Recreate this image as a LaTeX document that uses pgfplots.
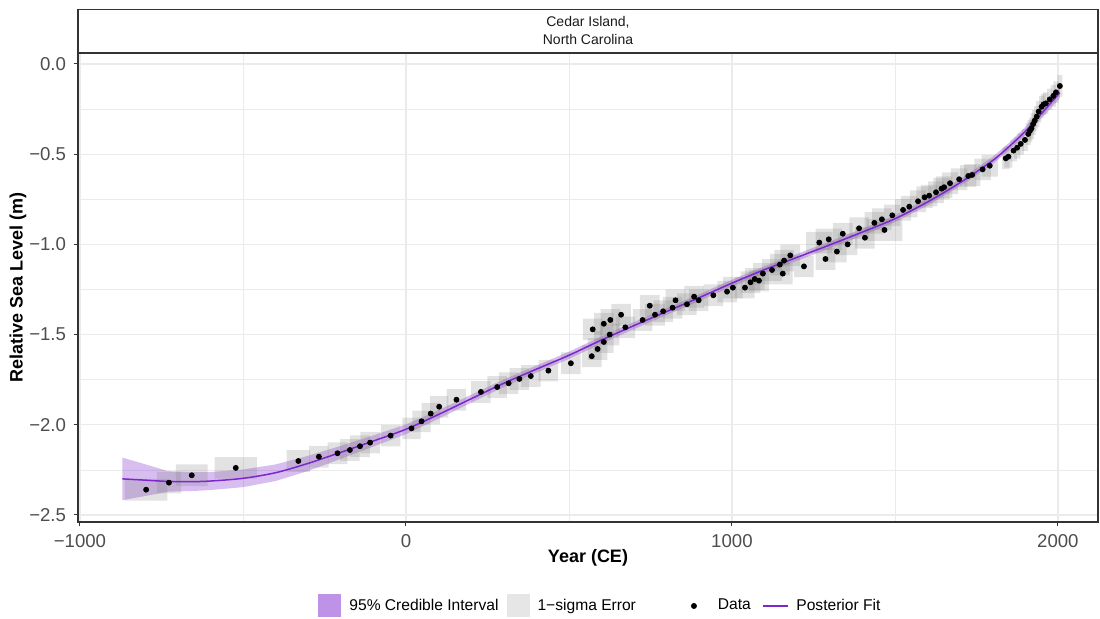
\documentclass[border=0pt]{standalone}
\usepackage{fontspec}
\setmainfont{Liberation Sans}
\usepackage{pgfplots}
\pgfplotsset{compat=1.18}
\usepgfplotslibrary{fillbetween}
\usepackage{pgfplotstable}
\definecolor{purple3}{HTML}{7D26CD}
\definecolor{grey30}{HTML}{4D4D4D}
\definecolor{grey20}{HTML}{333333}
\definecolor{grey92}{HTML}{EBEBEB}
\definecolor{grey10}{HTML}{1A1A1A}

% data points: year, RSL, half-width in years, half-height in m
\pgfplotstableread{
x y xe ye
-797 -2.360 65 0.06
-727 -2.321 37 0.06
-657 -2.280 49 0.06
-522 -2.239 65 0.06
-330 -2.201 36 0.06
-267 -2.177 30 0.06
-210 -2.158 30 0.06
-172 -2.140 30 0.06
-141 -2.119 30 0.06
-110 -2.099 30 0.06
-47 -2.060 30 0.06
17 -2.020 28 0.06
48 -1.981 28 0.06
76 -1.938 28 0.06
102 -1.900 28 0.06
155 -1.861 30 0.06
230 -1.818 30 0.06
280 -1.791 30 0.06
315 -1.770 30 0.06
348 -1.746 30 0.06
383 -1.730 30 0.06
437 -1.700 30 0.06
506 -1.659 30 0.06
570 -1.620 30 0.06
588 -1.580 30 0.06
607 -1.541 30 0.06
625 -1.500 30 0.06
573 -1.471 30 0.06
607 -1.440 30 0.06
627 -1.419 30 0.06
660 -1.390 30 0.06
673 -1.460 30 0.06
726 -1.419 30 0.06
748 -1.340 30 0.06
764 -1.390 30 0.06
789 -1.371 30 0.06
818 -1.351 30 0.06
827 -1.310 30 0.06
862 -1.332 30 0.06
884 -1.290 30 0.06
898 -1.310 30 0.06
943 -1.282 30 0.06
985 -1.262 30 0.06
1003 -1.240 30 0.06
1040 -1.240 30 0.06
1057 -1.210 30 0.06
1070 -1.192 30 0.06
1083 -1.201 30 0.06
1095 -1.162 30 0.06
1123 -1.142 30 0.06
1147 -1.112 30 0.06
1160 -1.090 30 0.06
1156 -1.162 30 0.06
1179 -1.061 30 0.06
1221 -1.122 30 0.06
1268 -0.990 40 0.06
1287 -1.081 30 0.06
1297 -0.972 40 0.06
1322 -1.040 30 0.06
1340 -0.941 30 0.06
1355 -1.000 30 0.06
1390 -0.911 30 0.06
1408 -0.963 30 0.06
1437 -0.881 30 0.06
1460 -0.861 30 0.06
1468 -0.920 55 0.06
1492 -0.839 25 0.06
1525 -0.809 25 0.06
1544 -0.791 25 0.06
1571 -0.761 25 0.06
1591 -0.739 25 0.06
1605 -0.730 25 0.06
1626 -0.711 25 0.06
1643 -0.691 25 0.06
1651 -0.683 25 0.06
1669 -0.661 25 0.06
1697 -0.639 25 0.06
1725 -0.621 25 0.06
1737 -0.615 25 0.06
1769 -0.584 25 0.06
1791 -0.564 25 0.06
1840 -0.523 12 0.06
1848 -0.514 12 0.06
1864 -0.480 10 0.06
1875 -0.464 10 0.06
1886 -0.443 10 0.06
1899 -0.421 10 0.06
1909 -0.388 8 0.06
1914 -0.371 8 0.06
1919 -0.357 8 0.06
1924 -0.333 8 0.06
1929 -0.314 8 0.06
1935 -0.292 8 0.06
1941 -0.264 8 0.06
1950 -0.237 8 0.06
1956 -0.224 8 0.06
1963 -0.218 8 0.06
1975 -0.196 8 0.06
1986 -0.177 8 0.06
1994 -0.157 8 0.06
2006 -0.122 8 0.06
}\pts

% posterior fit: year, mean, half-width of 95% interval
\pgfplotstableread{
year mean hw
-870 -2.300 0.118
-800 -2.307 0.088
-730 -2.314 0.057
-650 -2.315 0.052
-600 -2.312 0.050
-500 -2.297 0.049
-400 -2.266 0.046
-300 -2.214 0.042
-200 -2.153 0.036
-100 -2.090 0.031
0 -2.025 0.027
100 -1.943 0.024
200 -1.856 0.022
300 -1.770 0.021
400 -1.692 0.020
500 -1.615 0.020
600 -1.530 0.020
700 -1.450 0.020
800 -1.372 0.019
900 -1.295 0.019
1000 -1.215 0.019
1100 -1.140 0.019
1200 -1.072 0.019
1300 -1.003 0.019
1400 -0.932 0.019
1500 -0.858 0.019
1600 -0.765 0.019
1700 -0.658 0.019
1800 -0.535 0.020
1850 -0.458 0.021
1900 -0.373 0.023
1950 -0.274 0.025
2006 -0.159 0.030
}\fit

\begin{document}
\begin{tikzpicture}
\begin{axis}[
  at={(39pt,48.5pt)}, anchor=south west,
  scale only axis, width=510pt, height=234.5pt,
  xmin=-1006, xmax=2123, ymin=-2.539, ymax=0.061,
  xtick={-1000,0,1000,2000},
  xticklabels={−1000,0,1000,2000},
  ytick={-2.5,-2,-1.5,-1,-0.5,0},
  yticklabels={−2.5,−2.0,−1.5,−1.0,−0.5,0.0},
  minor x tick num=1, minor y tick num=1,
  grid=both,
  major grid style={grey92, line width=0.6pt},
  minor grid style={grey92, line width=0.35pt},
  tick pos=left, tick align=outside,
  major tick length=2.2pt, minor tick length=0pt,
  tick style={grey20, line width=0.5pt},
  axis line style={grey20, line width=0.6pt},
  ticklabel style={font=\fontsize{9.3}{11}\selectfont, text=grey30},
  yticklabel style={inner sep=0pt, anchor=east, xshift=-3.6pt},
  xticklabel style={inner sep=0pt, anchor=north, yshift=-3.8pt},
  xlabel={Year (CE)}, ylabel={Relative Sea Level (m)},
  label style={font=\fontsize{9}{11}\selectfont\bfseries},
  xlabel style={at={(axis description cs:0.5,-0.0768)}, anchor=center},
  ylabel style={at={(axis description cs:-0.0588,0.5)}, anchor=center},
  title={Cedar Island,\\North Carolina},
  every axis title shift=0pt,
  title style={at={(axis description cs:0.5,1)}, anchor=south, draw=grey20, line width=0.6pt,
    minimum width=510pt, minimum height=21.5pt, inner sep=0pt, align=center,
    font=\fontsize{7}{9}\selectfont, text=grey10, yshift=0pt},
  legend columns=4,
  legend cell align=left,
  legend style={at={(axis description cs:0.2353,-0.1791)}, anchor=west, draw=none, fill=none,
    inner sep=0pt, font=\fontsize{7.8}{9}\selectfont, nodes={inner sep=0pt},
    /tikz/column 1/.style={column sep=4pt},
    /tikz/column 2/.style={column sep=4pt},
    /tikz/column 3/.style={column sep=4pt},
    /tikz/column 4/.style={column sep=23pt},
    /tikz/column 5/.style={column sep=6pt},
    /tikz/column 6/.style={column sep=5.5pt},
    /tikz/column 7/.style={column sep=4pt}},
]
% 1-sigma boxes
\pgfplotstablegetrowsof{\pts}
\pgfmathtruncatemacro{\N}{\pgfplotsretval-1}
\pgfplotsforeachungrouped \i in {0,...,\N}{%
  \pgfplotstablegetelem{\i}{x}\of\pts \let\cx\pgfplotsretval
  \pgfplotstablegetelem{\i}{y}\of\pts \let\cy\pgfplotsretval
  \pgfplotstablegetelem{\i}{xe}\of\pts \let\ex\pgfplotsretval
  \pgfplotstablegetelem{\i}{ye}\of\pts \let\ey\pgfplotsretval
  \pgfmathsetmacro{\xa}{\cx-\ex}%
  \pgfmathsetmacro{\xb}{\cx+\ex}%
  \pgfmathsetmacro{\ya}{\cy-\ey}%
  \pgfmathsetmacro{\yb}{\cy+\ey}%
  \edef\temp{\noexpand\addplot[fill=gray, fill opacity=0.23, draw=none, forget plot]
    coordinates {(\xa,\ya) (\xb,\ya) (\xb,\yb) (\xa,\yb) (\xa,\ya)};}%
  \temp
}
% credible band
\addplot[name path=hi, draw=none, forget plot] table[x=year, y expr=\thisrow{mean}+\thisrow{hw}] {\fit};
\addplot[name path=lo, draw=none, forget plot] table[x=year, y expr=\thisrow{mean}-\thisrow{hw}] {\fit};
\addplot[fill=purple3, fill opacity=0.3, draw=none, forget plot] fill between[of=hi and lo];
% data points
\addplot[only marks, mark=*, mark size=1.25pt, black, forget plot] table[x=x, y=y] {\pts};
% posterior fit
\addplot[purple3, line width=0.75pt, smooth, forget plot] table[x=year, y=mean] {\fit};

\addlegendimage{legend image code/.code={\fill[purple3, fill opacity=0.5, draw=none] (0pt,-5.75pt) rectangle (11.5pt,5.75pt);}}
\addlegendentry{95\% Credible Interval}
\addlegendimage{legend image code/.code={\fill[gray, fill opacity=0.2, draw=none] (0pt,-5.75pt) rectangle (11.5pt,5.75pt);}}
\addlegendentry{1−sigma Error}
\addlegendimage{legend image code/.code={\path[draw=none, fill=none] (0pt,-5.75pt) rectangle (12pt,5.75pt); \fill[black, draw=none] (6pt,0pt) circle (1.5pt);}}
\addlegendentry{Data}
\addlegendimage{legend image code/.code={\path[draw=none, fill=none] (0pt,-5.75pt) rectangle (12.5pt,5.75pt); \draw[purple3, line width=0.75pt] (0pt,0pt) -- (12.5pt,0pt);}}
\addlegendentry{Posterior Fit}
\end{axis}
\pgfresetboundingbox
\path[use as bounding box] (0,0) rectangle (550pt,309.5pt);
\end{tikzpicture}
\end{document}
